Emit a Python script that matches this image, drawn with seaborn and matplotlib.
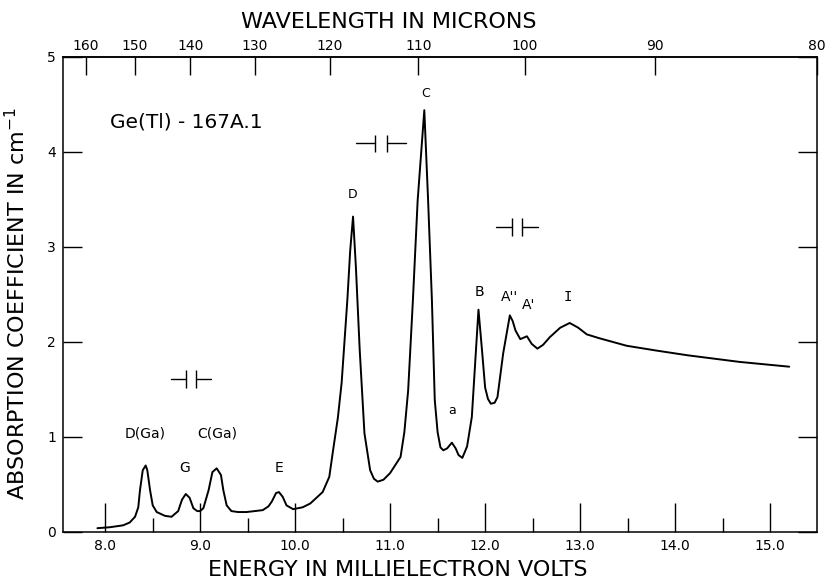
import numpy as np
import pandas as pd
import matplotlib
matplotlib.use("Agg")
import matplotlib.pyplot as plt
import seaborn as sns

# Absorption spectrum of Ge(Tl), sample 167A.1
energy_mev = [7.92, 8.05, 8.19, 8.26, 8.316, 8.35, 8.368, 8.397, 8.428, 8.445,
              8.474, 8.502, 8.544, 8.63, 8.70, 8.77, 8.81, 8.85, 8.89, 8.93,
              8.97, 9.00, 9.035, 9.09, 9.13, 9.175, 9.22, 9.245, 9.28, 9.33,
              9.40, 9.49, 9.66, 9.72, 9.755, 9.80, 9.83, 9.87, 9.91, 9.98,
              10.08, 10.16, 10.29, 10.36, 10.40, 10.45, 10.49, 10.55, 10.58, 10.61,
              10.64, 10.68, 10.73, 10.79, 10.83, 10.87, 10.93, 11.00, 11.11, 11.15,
              11.19, 11.24, 11.29, 11.36, 11.40, 11.44, 11.47, 11.50, 11.53, 11.56,
              11.60, 11.65, 11.69, 11.72, 11.76, 11.81, 11.86, 11.93, 11.97, 12.00,
              12.03, 12.06, 12.10, 12.13, 12.19, 12.26, 12.29, 12.32, 12.37, 12.44,
              12.49, 12.55, 12.61, 12.68, 12.79, 12.89, 12.98, 13.07, 13.20, 13.49,
              13.80, 14.13, 14.68, 15.20]
absorption = [0.04, 0.05, 0.07, 0.10, 0.16, 0.26, 0.44, 0.65, 0.70, 0.65,
              0.44, 0.28, 0.21, 0.17, 0.16, 0.22, 0.34, 0.40, 0.36, 0.25,
              0.22, 0.22, 0.25, 0.44, 0.63, 0.67, 0.60, 0.44, 0.28, 0.22,
              0.21, 0.21, 0.23, 0.27, 0.32, 0.41, 0.42, 0.37, 0.28, 0.24,
              0.26, 0.30, 0.42, 0.58, 0.86, 1.20, 1.57, 2.44, 2.96, 3.32,
              2.79, 1.92, 1.04, 0.65, 0.56, 0.53, 0.55, 0.62, 0.79, 1.05,
              1.49, 2.44, 3.49, 4.44, 3.49, 2.44, 1.39, 1.05, 0.89, 0.86,
              0.88, 0.94, 0.88, 0.81, 0.78, 0.90, 1.21, 2.34, 1.88, 1.52,
              1.40, 1.35, 1.36, 1.42, 1.88, 2.28, 2.22, 2.12, 2.03, 2.06,
              1.98, 1.93, 1.97, 2.05, 2.15, 2.20, 2.15, 2.08, 2.04, 1.96,
              1.91, 1.86, 1.79, 1.74]

# Line identifications
line_labels = ["D(Ga)", "G", "C(Ga)", "E", "D", "C", "a", "B", "A''", "A'", "I"]
label_energy = [8.42, 8.84, 9.18, 9.83, 10.61, 11.37, 11.65, 11.94, 12.26, 12.46, 12.87]
label_absorption = [1.04, 0.67, 1.04, 0.67, 3.55, 4.62, 1.28, 2.53, 2.47, 2.39, 2.47]

# Spectral slit widths (left edge, right edge, height)
slit_left = [8.855, 10.84, 12.28]
slit_right = [8.96, 10.97, 12.39]
slit_level = [1.61, 4.09, 3.21]

energy_ticks = [8.0, 9.0, 10.0, 11.0, 12.0, 13.0, 14.0, 15.0]
wavelength_ticks = [160, 150, 140, 130, 120, 110, 100, 90, 80]
absorption_ticks = [0, 1, 2, 3, 4, 5]

# wavelength scale: lambda = HC / (E - E_OFFSET)
HC = 1231.0
E_OFFSET = 0.105

sns.set_theme(style="ticks")
plt.rcParams["font.family"] = ["DejaVu Sans"]
plt.rcParams.update({
    "axes.linewidth": 1.1,
    "axes.edgecolor": "black",
    "axes.labelcolor": "black",
    "text.color": "black",
    "xtick.color": "black",
    "ytick.color": "black",
})

fig = plt.figure(figsize=(8.27, 5.79), dpi=100)
ax = fig.add_axes([0.0762, 0.0812, 0.912, 0.8204])

spectrum = pd.DataFrame({"energy": energy_mev, "absorption": absorption})
sns.lineplot(data=spectrum, x="energy", y="absorption", sort=False,
             estimator=None, color="black", linewidth=1.4, ax=ax)

ax.set_xlim(7.558, 15.495)
ax.set_ylim(0, 5)

ax.set_xticks(energy_ticks)
ax.set_xticklabels([f"{v:.1f}" for v in energy_ticks], fontsize=10)
ax.set_xticks(np.arange(8.5, 15.5, 1.0), minor=True)
ax.set_yticks(absorption_ticks)
ax.set_yticklabels([str(v) for v in absorption_ticks], fontsize=10)

ax.tick_params(axis="x", which="major", direction="in", length=21, width=1.0,
               pad=5, top=False)
ax.tick_params(axis="x", which="minor", direction="in", length=10, width=1.0,
               top=False)
ax.tick_params(axis="y", which="major", direction="in", length=13.5, width=1.0,
               pad=5, right=True)

ax.set_xlabel("ENERGY IN MILLIELECTRON VOLTS", fontsize=16)
ax.xaxis.set_label_coords(0.444, -0.08)
ax.xaxis.label.set_va("center")
ax.set_ylabel(r"ABSORPTION COEFFICIENT IN cm$^{-1}$", fontsize=16)
ax.yaxis.set_label_coords(-0.062, 0.48)
ax.yaxis.label.set_va("center")


def energy_to_wavelength(e):
    e = np.asarray(e, dtype=float)
    with np.errstate(divide="ignore", invalid="ignore"):
        return HC / (e - E_OFFSET)


def wavelength_to_energy(w):
    w = np.asarray(w, dtype=float)
    with np.errstate(divide="ignore", invalid="ignore"):
        return HC / w + E_OFFSET


top = ax.secondary_xaxis("top", functions=(energy_to_wavelength, wavelength_to_energy))
top.set_xticks(wavelength_ticks)
top.set_xticklabels([str(v) for v in wavelength_ticks], fontsize=10)
top.tick_params(direction="in", length=13, width=1.0, pad=3, colors="black")
top.spines["top"].set_color("black")
ax.text(0.432, 1.074, "WAVELENGTH IN MICRONS", transform=ax.transAxes,
        fontsize=16, ha="center", va="center")

# Sample name
ax.text(8.05, 4.32, "Ge(Tl) - 167A.1", fontsize=14.5, ha="left", va="center")

# Line labels
for txt, e, a in zip(line_labels, label_energy, label_absorption):
    size = 9 if txt in ("D", "C", "a") else 10
    family = "DejaVu Sans Mono" if txt == "I" else "DejaVu Sans"
    ax.text(e, a, txt, fontsize=size, ha="center", va="center", family=family)

# Slit-width markers
for lo, hi, lev in zip(slit_left, slit_right, slit_level):
    w = hi - lo
    ax.plot([lo - 1.5 * w, lo], [lev, lev], color="black", linewidth=1.0)
    ax.plot([hi, hi + 1.5 * w], [lev, lev], color="black", linewidth=1.0)
    ax.vlines([lo, hi], lev - 0.09, lev + 0.09, color="black", linewidth=1.0)

fig.savefig("out.png", dpi=100)
